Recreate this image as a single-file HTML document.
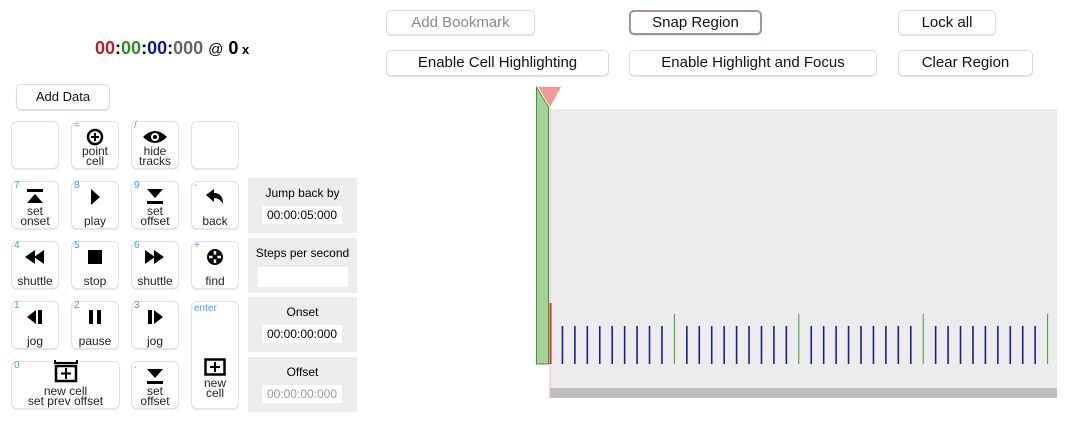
<!DOCTYPE html>
<html><head><meta charset="utf-8"><style>
body{margin:0;width:1084px;height:446px;background:#fff;position:relative;overflow:hidden;font-family:"Liberation Sans",sans-serif}
.b{position:absolute;box-sizing:border-box;background:#fff;border:1px solid #dcdcdc;border-radius:5px;box-shadow:0 1px 1px rgba(0,0,0,.12);font-size:16px;text-align:center;color:#111}
.k{position:absolute;box-sizing:border-box;width:48px;height:48px;background:#fff;border:1px solid #e2e2e2;border-radius:6px;box-shadow:0 1px 1px rgba(0,0,0,.1);font-size:12px;color:#222;text-align:center;line-height:10px}
.k .s{position:absolute;left:2px;top:-1px;font-size:10px;color:#3aa0ff}
.k svg{position:absolute;left:0;right:0;margin:0 auto;top:6px}
.k .l{position:absolute;left:0;right:0;bottom:2px;line-height:10px}
.p{position:absolute;left:248px;width:109px;height:55px;background:#ececec;font-size:12px;text-align:center}
.p .t{margin-top:8px}
.p .i{position:absolute;left:14px;top:28px;width:80px;height:18px;background:#fff;font-size:12px;line-height:18px}
</style></head><body>
<div style="position:absolute;left:95px;top:38px;font-size:18px;font-weight:bold"><span style="color:#b22222">00</span>:<span style="color:#2e8b22">00</span>:<span style="color:#0a1a8c">00</span>:<span style="color:#666">000</span> <span style="font-weight:normal;font-size:15px">@</span> 0<span style="font-size:13px"> x</span></div>
<div class="b" style="left:16px;top:84px;width:94px;height:26px;font-size:13px;line-height:24px">Add Data</div>

<div class="k" style="left:11px;top:121px"></div>
<div class="k" style="left:71px;top:121px"><span class="s">=</span><svg width="18" height="18" viewBox="0 0 18 18"><circle cx="9" cy="9" r="7" fill="none" stroke="#000" stroke-width="2.5"/><path d="M9 5v8M5 9h8" stroke="#000" stroke-width="2"/></svg><div class="l">point<br>cell</div></div>
<div class="k" style="left:131px;top:121px"><span class="s">/</span><svg width="26" height="18" viewBox="0 0 26 18"><path d="M1 9Q13-3 25 9Q13 21 1 9Z" fill="#000"/><circle cx="13" cy="9" r="4" fill="#fff"/><circle cx="13" cy="9" r="2" fill="#000"/></svg><div class="l">hide<br>tracks</div></div>
<div class="k" style="left:191px;top:121px"></div>

<div class="k" style="left:11px;top:181px"><span class="s">7</span><svg width="18" height="18" viewBox="0 0 18 18"><rect x="1" y="1" width="16" height="3"/><path d="M9 6L17 15H1Z"/></svg><div class="l">set<br>onset</div></div>
<div class="k" style="left:71px;top:181px"><span class="s">8</span><svg width="18" height="18" viewBox="0 0 18 18"><path d="M5 1L14 9L5 17Z"/></svg><div class="l">play</div></div>
<div class="k" style="left:131px;top:181px"><span class="s">9</span><svg width="18" height="18" viewBox="0 0 18 18"><path d="M1 1H17L9 10Z"/><rect x="1" y="13" width="16" height="3"/></svg><div class="l">set<br>offset</div></div>
<div class="k" style="left:191px;top:181px"><span class="s">-</span><svg width="20" height="18" viewBox="0 0 20 18"><path d="M1 7L9 1V5Q18 5 18 16Q15 10 9 10V14Z"/></svg><div class="l">back</div></div>

<div class="k" style="left:11px;top:241px"><span class="s">4</span><svg width="22" height="18" viewBox="0 0 22 18"><path d="M1 9L11 2V16ZM10 9L20 2V16Z"/></svg><div class="l">shuttle</div></div>
<div class="k" style="left:71px;top:241px"><span class="s">5</span><svg width="18" height="18" viewBox="0 0 18 18"><rect x="2" y="2" width="14" height="14"/></svg><div class="l">stop</div></div>
<div class="k" style="left:131px;top:241px"><span class="s">6</span><svg width="22" height="18" viewBox="0 0 22 18"><path d="M1 2L11 9L1 16ZM10 2L20 9L10 16Z"/></svg><div class="l">shuttle</div></div>
<div class="k" style="left:191px;top:241px"><span class="s">+</span><svg width="18" height="18" viewBox="0 0 18 18"><circle cx="9" cy="9" r="8"/><path d="M9 3v12M3 9h12" stroke="#fff" stroke-width="2.5"/><circle cx="9" cy="9" r="2.5" fill="#000"/></svg><div class="l">find</div></div>

<div class="k" style="left:11px;top:301px"><span class="s">1</span><svg width="18" height="18" viewBox="0 0 18 18"><path d="M1 9L10 2V16Z"/><rect x="12" y="2" width="4" height="14"/></svg><div class="l">jog</div></div>
<div class="k" style="left:71px;top:301px"><span class="s">2</span><svg width="18" height="18" viewBox="0 0 18 18"><rect x="3" y="2" width="4" height="14"/><rect x="11" y="2" width="4" height="14"/></svg><div class="l">pause</div></div>
<div class="k" style="left:131px;top:301px"><span class="s">3</span><svg width="18" height="18" viewBox="0 0 18 18"><rect x="2" y="2" width="4" height="14"/><path d="M8 2L17 9L8 16Z"/></svg><div class="l">jog</div></div>
<div class="k" style="left:191px;top:301px;height:108px"><span class="s" style="top:2px">enter</span><svg width="22" height="18" viewBox="0 0 22 18" style="top:56px"><rect x="1.5" y="1.5" width="19" height="15" fill="none" stroke="#000" stroke-width="2.5"/><path d="M11 4v10M6 9h10" stroke="#000" stroke-width="2"/></svg><div class="l" style="bottom:10px">new<br>cell</div></div>

<div class="k" style="left:11px;top:361px;width:109px"><span class="s">0</span><svg width="26" height="24" viewBox="0 0 26 24" style="top:-3px"><path d="M2 1v3h22V1" fill="none" stroke="#000" stroke-width="2"/><rect x="3" y="7" width="20" height="15" fill="none" stroke="#000" stroke-width="2.5"/><path d="M13 9v11M8 14.5h10" stroke="#000" stroke-width="2"/></svg><div class="l">new cell<br>set prev offset</div></div>
<div class="k" style="left:131px;top:361px"><span class="s">.</span><svg width="18" height="18" viewBox="0 0 18 18"><path d="M1 1H17L9 10Z"/><rect x="1" y="13" width="16" height="3"/></svg><div class="l">set<br>offset</div></div>

<div class="p" style="top:178px"><div class="t">Jump back by</div><div class="i">00:00:05:000</div></div>
<div class="p" style="top:238px"><div class="t">Steps per second</div><div class="i" style="left:10px;width:90px;top:29px;height:20px"></div></div>
<div class="p" style="top:297px"><div class="t">Onset</div><div class="i">00:00:00:000</div></div>
<div class="p" style="top:357px"><div class="t">Offset</div><div class="i" style="color:#999">00:00:00:000</div></div>

<div class="b" style="left:386px;top:10px;width:149px;height:25px;line-height:23px;color:#888;font-size:15px">Add Bookmark</div>
<div class="b" style="left:629px;top:10px;width:133px;height:25px;line-height:21px;border:2px solid #a89488;font-size:15px">Snap Region</div>
<div class="b" style="left:898px;top:10px;width:98px;height:25px;line-height:23px;font-size:15px">Lock all</div>
<div class="b" style="left:386px;top:50px;width:223px;height:26px;line-height:24px;font-size:15px">Enable Cell Highlighting</div>
<div class="b" style="left:629px;top:50px;width:248px;height:26px;line-height:24px;font-size:15px">Enable Highlight and Focus</div>
<div class="b" style="left:898px;top:50px;width:135px;height:26px;line-height:24px;font-size:15px">Clear Region</div>

<svg id="tl" style="position:absolute;left:0;top:0" width="1084" height="446">
<rect x="550" y="109" width="507" height="279" fill="#ececec"/>
<rect x="550" y="388" width="507" height="10" fill="#bebebe"/>
<line x1="550" y1="107" x2="550" y2="398" stroke="#f0b8b8" stroke-width="1"/>
<path d="M536.5 87.5L548.5 107V364H536.5Z" fill="#a4d19c" stroke="#3a9a2a" stroke-width="1"/>
<path d="M538 87H561L550 107Z" fill="#f09a9a"/>
<rect x="549.5" y="303" width="2" height="61" fill="#c8322a"/>
<g id="ticks"></g>
</svg>
<script>
const tickIndices = Array.from({length:40},(_, i)=>i+1);
const majorEvery = [10];
const tickSpacing = 12.44, x0 = 550;
const g = document.getElementById('ticks');
tickIndices.forEach(i=>{
  const major = i % majorEvery[0] === 0;
  const l = document.createElementNS('http://www.w3.org/2000/svg','line');
  const x = x0 + i*tickSpacing;
  l.setAttribute('x1',x);l.setAttribute('x2',x);
  l.setAttribute('y1',major?314:326);l.setAttribute('y2',364);
  l.setAttribute('stroke',major?'#3a9a2a':'#1a1f8c');
  l.setAttribute('stroke-width',major?1:1.6);
  
  
  g.appendChild(l);
});
</script>
</body></html>
